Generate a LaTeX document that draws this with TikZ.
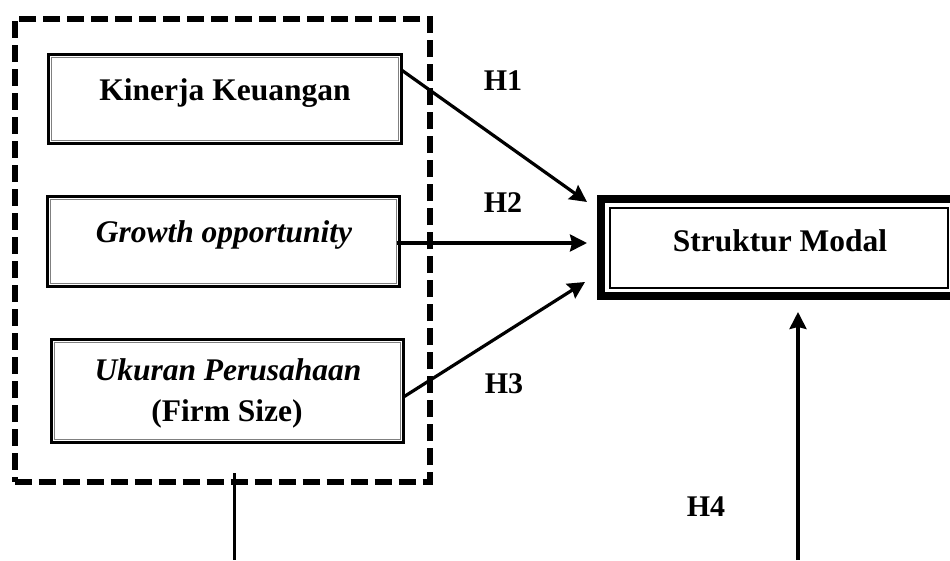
\documentclass[tikz,border=0pt]{standalone}
\usepackage{fontspec}
\setmainfont{Liberation Serif}
\usetikzlibrary{arrows.meta,calc}
\begin{document}
\begin{tikzpicture}[x=1pt,y=-1pt,
  boxtxt/.style={anchor=base,inner sep=0pt,font=\fontsize{31.5}{37}\selectfont\bfseries},
  htxt/.style={anchor=base,inner sep=0pt,font=\fontsize{30}{35}\selectfont\bfseries},
  varbox/.style={draw=black,line width=2.2pt,outer sep=0pt,inner sep=0pt},
  innerline/.style={draw=black!50,line width=1.1pt},
  grpbox/.style={draw=black,line width=6pt,dash pattern=on 17pt off 7pt,outer sep=0pt,inner sep=0pt},
  mainbox/.style={draw=black,line width=8pt,outer sep=0pt,inner sep=0pt},
  arr/.style={draw=black,line width=3.2pt,-{Stealth[length=17pt,width=17pt,inset=2pt]}},
  plain/.style={draw=black,line width=3pt}]
\useasboundingbox (0,0) rectangle (950,560);
\clip (0,0) rectangle (950,560);
\fill[white] (0,0) rectangle (950,560);

% group box
\node[grpbox,minimum width=415pt,minimum height=463.5pt] (grp) at (222,250.25) {};

% variable boxes
\node[varbox,minimum width=353pt,minimum height=89pt] (kin) at (225,99) {};
\node[varbox,minimum width=352pt,minimum height=90pt] (gro) at (223.5,241.5) {};
\node[varbox,minimum width=352pt,minimum height=103pt] (uku) at (227.5,391) {};
\foreach \b in {kin,gro,uku}{
  \draw[innerline] ([shift={(3.2pt,-3.2pt)}]\b.north west) rectangle ([shift={(-3.2pt,3.2pt)}]\b.south east);
}

\node[boxtxt] (kint) at (225,100) {Kinerja Keuangan};
\node[boxtxt] (grot) at (224,242) {\itshape Growth opportunity};
\node[boxtxt] (ukut1) at (228,380) {\itshape Ukuran Perusahaan};
\node[boxtxt] (ukut2) at (227,421) {(Firm Size)};

% dependent variable box
\node[mainbox,minimum width=359pt,minimum height=97pt] (sm) at (780.5,247.5) {};
\draw[draw=black,line width=2.4pt] (610,208) rectangle (948,288);
\node[boxtxt] (smt) at (780,251) {Struktur Modal};

% tips and free ends
\coordinate (t1) at (587,202);
\coordinate (t2) at (587,243);
\coordinate (t3) at (585,282);
\coordinate (lt) at (234,473);
\coordinate (lb) at (234,560);
\coordinate (rb) at (798,560);

\draw[arr] ([yshift=29pt]kin.east) -- (t1);
\draw[arr] ([shift={(-3pt,-1.5pt)}]gro.east) -- (t2);
\draw[arr] ([yshift=-6pt]uku.east) -- (t3);
\draw[arr] (rb) -- ([yshift=-16pt]sm.south -| rb);
\draw[plain] (lt) -- (lb);

% hypothesis labels
\node[htxt] (h1) at (503,90) {H1};
\node[htxt] (h2) at (503,212) {H2};
\node[htxt] (h3) at (504,393) {H3};
\node[htxt] (h4) at (706,516) {H4};
\end{tikzpicture}
\end{document}
